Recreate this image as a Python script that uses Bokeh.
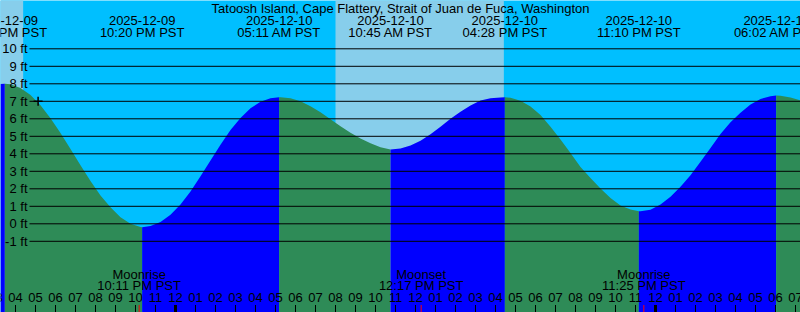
from bokeh.plotting import figure
from bokeh.models import Range1d
from bokeh.core.properties import value
from bokeh.embed import file_html
from bokeh.resources import INLINE

TITLE = "Tatoosh Island, Cape Flattery, Strait of Juan de Fuca, Washington"

# ---- data (time = hours since 2025-12-09 00:00 PST) ----
sample_start = 15.25
sample_step = 0.5
tide_ft = [
    7.99, 7.97, 7.76, 7.36, 6.77, 6.03, 5.19, 4.28, 3.35, 2.45,
    1.62, 0.95, 0.38, 0.00, -0.18, -0.12, 0.10, 0.52, 1.10, 1.84,
    2.72, 3.62, 4.52, 5.36, 6.05, 6.60, 6.98, 7.18, 7.23, 7.17,
    7.00, 6.72, 6.37, 5.97, 5.57, 5.20, 4.87, 4.60, 4.38, 4.25,
    4.30, 4.47, 4.75, 5.12, 5.55, 6.00, 6.40, 6.76, 7.05, 7.18,
    7.22, 7.20, 7.03, 6.70, 6.22, 5.55, 4.82, 4.05, 3.25, 2.62,
    2.02, 1.47, 1.05, 0.82, 0.72, 0.80, 1.10, 1.55, 2.12, 2.78,
    3.54, 4.33, 5.13, 5.80, 6.35, 6.82, 7.13, 7.29, 7.32, 7.22,
    7.05,
]
sample_hours = [sample_start + sample_step * i for i in range(len(tide_ft))]

ext_hours = [15.467, 22.333, 29.183, 34.75, 40.467, 47.167, 54.033]
ext_ft = [8.0, -0.19, 7.23, 4.25, 7.23, 0.72, 7.33]
ext_date = ["2025-12-09", "2025-12-09", "2025-12-10", "2025-12-10",
            "2025-12-10", "2025-12-10", "2025-12-11"]
ext_time = ["03:28 PM PST", "10:20 PM PST", "05:11 AM PST", "10:45 AM PST",
            "04:28 PM PST", "11:10 PM PST", "06:02 AM PST"]

sunrise_hours = [8.0, 32.0]
sunset_hours = [16.383, 40.417]

moon_hours = [22.183, 36.283, 47.417]
moon_event = ["Moonrise", "Moonset", "Moonrise"]
moon_time = ["10:11 PM PST", "12:17 PM PST", "11:25 PM PST"]

now_hour = [17.13]
now_ft = [7.0]

ft_ticks = list(range(-1, 11))
ft_labels = [f"{v} ft" for v in ft_ticks]
hour_ticks = list(range(15, 56))
hour_labels = [f"{((h % 24) - 1) % 12 + 1:02d}" for h in hour_ticks]

# ---- colours / layout ----
NIGHT = "#00BFFF"
DAY = "#87CEEB"
RISING = "#0000FF"
FALLING = "#2E8B57"
FONT = value("Liberation Sans")
FS = "13px"

W, H = 800, 312
PX_HR = 20.0
PX_FT = 17.5
ZERO_PX = 223.3
X_LEFT = 15.25


def xpx(px):
    return X_LEFT + px / PX_HR


def ypx(py):
    return (ZERO_PX - py) / PX_FT


p = figure(width=W, height=H, output_backend="svg", toolbar_location=None,
           x_range=Range1d(xpx(0), xpx(W)), y_range=Range1d(ypx(H), ypx(0)),
           min_border=0)
p.xaxis.visible = False
p.yaxis.visible = False
p.grid.visible = False
p.outline_line_color = None
p.background_fill_color = NIGHT
p.border_fill_color = NIGHT

# daytime
p.quad(left=sunrise_hours, right=sunset_hours, bottom=ypx(H + 10), top=ypx(-10),
       fill_color=DAY, line_color=None)

# tide fill, split at extremes
pts = [(t, v) for t, v in zip(sample_hours, tide_ft)
       if all(abs(t - e) > 0.02 for e in ext_hours)]
pts += list(zip(ext_hours, ext_ft))
pts.sort()
bounds = [sample_hours[0]] + ext_hours + [sample_hours[-1]]
for a, b in zip(bounds[:-1], bounds[1:]):
    seg = [(t, v) for t, v in pts if a - 1e-9 <= t <= b + 1e-9]
    if len(seg) < 2:
        continue
    xs = [s[0] for s in seg]
    ys = [s[1] for s in seg]
    col = RISING if ys[-1] > ys[0] else FALLING
    p.varea(x=xs, y1=[ypx(H + 10)] * len(xs), y2=ys, fill_color=col)

# horizontal foot lines
p.segment(x0=[xpx(29)] * len(ft_ticks), x1=[xpx(W)] * len(ft_ticks),
          y0=ft_ticks, y1=ft_ticks, line_color="black", line_width=1)
p.text(x=[xpx(27)] * len(ft_ticks), y=ft_ticks, text=ft_labels,
       text_align="right", text_baseline="middle", text_font=FONT,
       text_font_size=FS, text_color="black")

# title
p.text(x=[xpx(400)], y=[ypx(7.7)], text=[TITLE], text_align="center",
       text_baseline="middle", text_font=FONT, text_font_size=FS,
       text_color="black")

# extreme labels
p.text(x=ext_hours, y=[ypx(19.5)] * len(ext_hours), text=ext_date,
       text_align="center", text_baseline="middle", text_font=FONT,
       text_font_size=FS, text_color="black")
p.text(x=ext_hours, y=[ypx(31.7)] * len(ext_hours), text=ext_time,
       text_align="center", text_baseline="middle", text_font=FONT,
       text_font_size=FS, text_color="black")

# moon labels
p.text(x=moon_hours, y=[ypx(273.5)] * len(moon_hours), text=moon_event,
       text_align="center", text_baseline="middle", text_font=FONT,
       text_font_size=FS, text_color="black")
p.text(x=moon_hours, y=[ypx(285.3)] * len(moon_hours), text=moon_time,
       text_align="center", text_baseline="middle", text_font=FONT,
       text_font_size=FS, text_color="black")

# hour labels and ticks
p.text(x=hour_ticks, y=[ypx(297)] * len(hour_ticks), text=hour_labels,
       text_align="center", text_baseline="middle", text_font=FONT,
       text_font_size=FS, text_color="black")
p.segment(x0=hour_ticks, x1=hour_ticks, y0=[ypx(304.5)] * len(hour_ticks),
          y1=[ypx(H + 2)] * len(hour_ticks), line_color="black", line_width=1)
midnights = [h for h in hour_ticks if h % 24 == 0]
p.segment(x0=midnights, x1=midnights, y0=[ypx(304.5)] * len(midnights),
          y1=[ypx(H + 2)] * len(midnights), line_color="black", line_width=3)
p.segment(x0=moon_hours, x1=moon_hours, y0=[ypx(304.5)] * len(moon_hours),
          y1=[ypx(H + 2)] * len(moon_hours), line_color="red", line_width=1)

# current-time marker
p.scatter(x=now_hour, y=now_ft, marker="cross", size=9, line_color="black",
          line_width=1.5)

open("out.html", "w").write(file_html(p, INLINE))
